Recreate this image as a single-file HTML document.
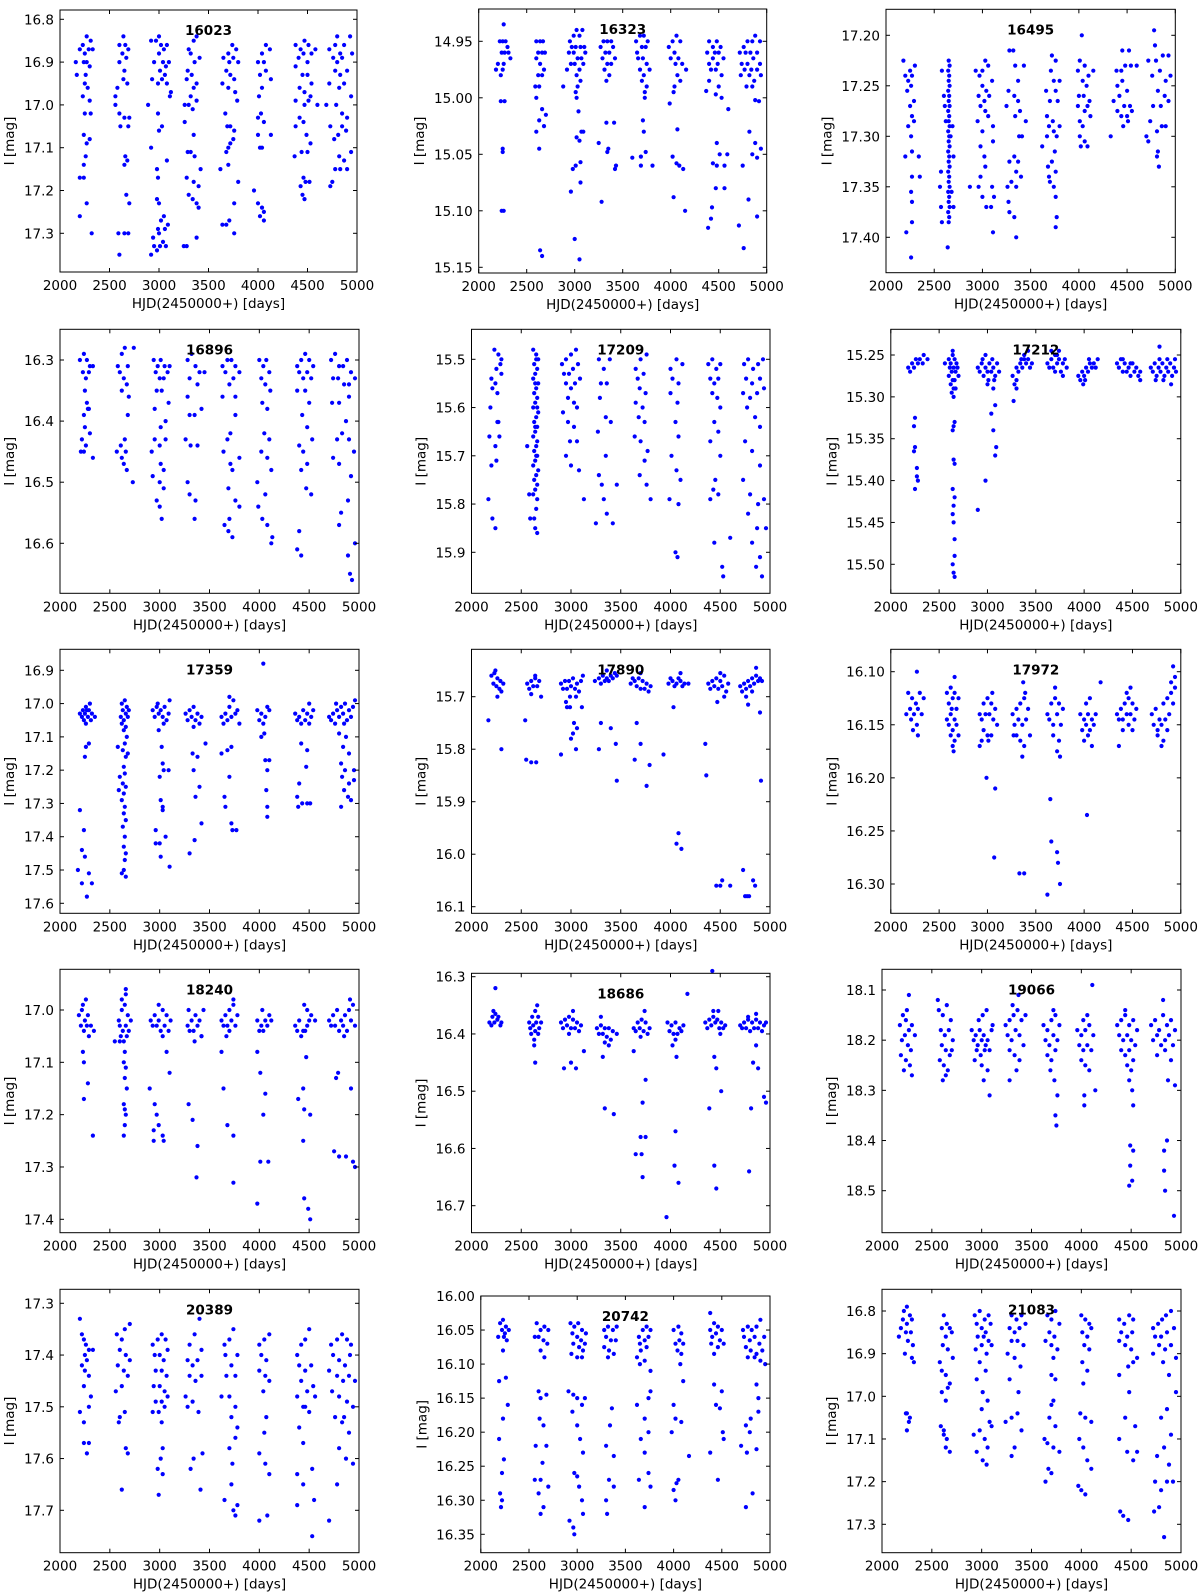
<!DOCTYPE html>
<html><head><meta charset="utf-8">
<style>
html,body{margin:0;padding:0;background:#fff;}
svg{display:block;font-family:"DejaVu Sans","Liberation Sans",sans-serif;}
</style></head>
<body>
<svg id="fig" width="1200" height="1596" viewBox="0 0 1200 1596" xmlns="http://www.w3.org/2000/svg"></svg>
<script>
// ---- data: [HJD-2450000, I mag] per star ----
const obs16023=[[2160,16.90],[2200,16.87],[2230,16.86],[2250,16.88],[2270,16.84],[2290,16.87],[2310,16.85],[2330,16.87],[2240,16.90],[2270,16.90],[2300,16.91],[2250,16.95],[2260,16.93],[2280,16.96],[2300,16.99],[2250,17.02],[2310,17.02],[2240,17.07],[2270,17.09],[2300,17.08],[2260,17.12],[2240,17.14],[2200,17.17],[2240,17.17],[2270,17.23],[2200,17.26],[2320,17.30],[2230,16.98],[2170,16.93],
[2600,16.86],[2640,16.84],[2660,16.86],[2690,16.87],[2630,16.88],[2670,16.89],[2600,16.90],[2650,16.92],[2580,16.96],[2640,16.94],[2680,16.95],[2560,16.98],[2560,17.00],[2600,17.02],[2650,17.03],[2700,17.03],[2610,17.05],[2690,17.05],[2660,17.12],[2650,17.14],[2680,17.13],[2670,17.21],[2700,17.23],[2590,17.30],[2650,17.30],[2690,17.30],[2600,17.35],
[2920,16.85],[2970,16.85],[3000,16.84],[3020,16.86],[3050,16.87],[3080,16.86],[3000,16.88],[3040,16.90],[3070,16.91],[3100,16.90],[2950,16.90],[3010,16.92],[3060,16.93],[2930,16.94],[2990,16.95],[3030,16.94],[3080,16.95],[3120,16.97],[2890,17.00],[2990,17.02],[3030,17.05],[3000,17.06],[3110,16.98],[2920,17.10],[2980,17.15],[2990,17.17],[3080,17.13],[2980,17.22],[3000,17.23],[3020,17.27],[3050,17.26],[2990,17.29],[3060,17.29],[3090,17.28],[2940,17.31],[3000,17.30],[3040,17.32],[2950,17.33],[3010,17.33],[3070,17.33],[2920,17.35],[2980,17.34],
[3300,16.87],[3350,16.85],[3380,16.84],[3320,16.88],[3360,16.90],[3410,16.89],[3290,16.92],[3330,16.93],[3380,16.95],[3280,16.94],[3350,16.96],[3320,16.98],[3380,16.99],[3260,17.00],[3300,17.00],[3340,17.01],[3260,17.04],[3350,17.07],[3290,17.11],[3320,17.11],[3360,17.12],[3420,17.15],[3350,17.18],[3280,17.17],[3400,17.19],[3300,17.21],[3340,17.22],[3380,17.23],[3400,17.24],[3250,17.33],[3280,17.33],[3380,17.31],
[3650,16.89],[3700,16.88],[3740,16.86],[3780,16.87],[3710,16.90],[3750,16.89],[3800,16.90],[3680,16.92],[3720,16.93],[3760,16.94],[3640,16.95],[3700,16.96],[3770,16.97],[3790,16.99],[3670,17.02],[3690,17.05],[3720,17.05],[3760,17.06],[3750,17.08],[3720,17.09],[3700,17.10],[3680,17.11],[3620,17.15],[3700,17.14],[3800,17.18],[3760,17.23],[3640,17.28],[3680,17.28],[3710,17.27],[3760,17.30],
[4000,16.90],[4040,16.88],[4080,16.86],[4120,16.87],[4060,16.90],[4020,16.93],[4080,16.92],[4130,16.94],[4040,16.96],[4010,16.98],[4000,17.03],[4030,17.02],[4060,17.04],[4000,17.07],[4130,17.07],[4020,17.10],[4040,17.10],[3960,17.20],[4000,17.23],[4040,17.24],[4060,17.25],[4020,17.26],[4060,17.27],
[4380,16.86],[4430,16.87],[4470,16.85],[4510,16.86],[4540,16.88],[4410,16.89],[4460,16.88],[4500,16.90],[4580,16.87],[4380,16.91],[4450,16.93],[4500,16.93],[4540,16.95],[4420,16.96],[4470,16.97],[4510,16.99],[4380,16.99],[4470,17.00],[4530,16.98],[4600,17.00],[4420,17.03],[4460,17.04],[4380,17.05],[4490,17.07],[4530,17.09],[4440,17.11],[4500,17.11],[4370,17.12],[4460,17.17],[4480,17.18],[4430,17.19],[4520,17.18],[4450,17.21],[4470,17.22],
[4720,16.87],[4780,16.86],[4800,16.84],[4830,16.88],[4870,16.86],[4930,16.84],[4760,16.89],[4800,16.90],[4850,16.89],[4950,16.88],[4780,16.92],[4830,16.93],[4900,16.92],[4720,16.95],[4820,16.96],[4870,16.95],[4940,16.98],[4690,17.00],[4790,17.00],[4850,17.02],[4900,17.03],[4730,17.05],[4850,17.05],[4890,17.06],[4770,17.08],[4810,17.07],[4940,17.11],[4820,17.12],[4870,17.13],[4780,17.15],[4900,17.15],[4750,17.18],[4730,17.19],[4830,17.15]];
const obs16323=[[2260,14.935],[2220,14.95],[2250,14.95],[2280,14.95],[2300,14.955],[2240,14.96],[2270,14.96],[2310,14.96],[2200,14.97],[2260,14.97],[2330,14.965],[2180,14.975],[2230,14.98],[2250,14.975],[2230,15.003],[2270,15.003],[2250,15.045],[2250,15.048],[2240,15.1],[2260,15.1],
[2600,14.95],[2640,14.95],[2670,14.95],[2620,14.96],[2660,14.96],[2690,14.96],[2600,14.965],[2640,14.97],[2680,14.975],[2620,14.98],[2660,14.98],[2590,14.99],[2630,14.99],[2600,15.0],[2660,15.01],[2700,15.015],[2630,15.02],[2680,15.025],[2600,15.03],[2630,15.045],[2640,15.135],[2660,15.14],
[2950,14.95],[2990,14.945],[3020,14.94],[3050,14.945],[3080,14.94],[2970,14.955],[3010,14.955],[3060,14.955],[3100,14.955],[2940,14.96],[2990,14.96],[3030,14.965],[3070,14.965],[3110,14.96],[2960,14.97],[3000,14.97],[3050,14.975],[3090,14.97],[2920,14.975],[3020,14.98],[3060,14.985],[2880,14.99],[3030,14.99],[3010,14.995],[3020,15.0],[3040,15.012],[3070,15.03],[3090,15.03],[3020,15.035],[3050,15.038],[2980,15.063],[3010,15.06],[3060,15.057],[3060,15.075],[2960,15.083],[3000,15.125],[3050,15.143],
[3300,14.95],[3340,14.95],[3380,14.95],[3270,14.955],[3320,14.96],[3360,14.96],[3400,14.955],[3290,14.965],[3340,14.97],[3380,14.97],[3420,14.965],[3310,14.975],[3360,14.98],[3330,14.985],[3330,15.022],[3410,15.022],[3250,15.04],[3350,15.045],[3340,15.048],[3430,15.06],[3420,15.063],[3280,15.092],
[3640,14.95],[3680,14.945],[3720,14.945],[3760,14.95],[3650,14.96],[3700,14.955],[3740,14.955],[3660,14.965],[3710,14.965],[3750,14.97],[3680,14.975],[3720,14.98],[3780,14.975],[3700,14.985],[3750,14.99],[3730,14.995],[3730,15.0],[3710,15.02],[3720,15.03],[3740,15.048],[3600,15.053],[3690,15.052],[3690,15.06],[3810,15.06],
[3980,14.955],[4020,14.95],[4060,14.945],[4100,14.95],[4040,14.96],[4080,14.965],[4000,14.965],[4050,14.97],[4120,14.97],[4160,14.975],[4070,14.98],[4100,14.985],[4040,14.99],[4030,14.995],[3990,15.005],[4070,15.028],[4020,15.052],[4060,15.058],[4090,15.06],[4130,15.063],[4030,15.088],[4150,15.1],
[4400,14.95],[4440,14.955],[4480,14.95],[4520,14.955],[4380,14.96],[4460,14.96],[4500,14.96],[4550,14.965],[4400,14.97],[4440,14.965],[4490,14.97],[4420,14.975],[4470,14.975],[4530,14.98],[4400,14.985],[4500,14.99],[4370,14.994],[4470,14.997],[4530,15.0],[4600,15.01],[4480,15.04],[4510,15.05],[4590,15.05],[4440,15.058],[4480,15.06],[4560,15.06],[4470,15.08],[4560,15.08],[4430,15.097],[4420,15.107],[4390,15.115],
[4760,14.955],[4800,14.95],[4850,14.95],[4880,14.945],[4930,14.95],[4720,14.96],[4780,14.96],[4830,14.96],[4900,14.96],[4740,14.97],[4800,14.97],[4860,14.965],[4930,14.97],[4770,14.975],[4840,14.975],[4900,14.975],[4730,14.98],[4820,14.98],[4870,14.985],[4940,14.98],[4790,14.99],[4850,14.99],[4880,15.002],[4920,15.003],[4820,15.03],[4880,15.04],[4940,15.045],[4850,15.05],[4900,15.053],[4750,15.06],[4810,15.09],[4710,15.113],[4900,15.105],[4760,15.133]];
const obs16495=[[2180,17.225],[2200,17.24],[2230,17.245],[2250,17.235],[2270,17.24],[2260,17.25],[2220,17.255],[2300,17.23],[2290,17.265],[2250,17.27],[2270,17.28],[2230,17.29],[2290,17.285],[2260,17.30],[2270,17.315],[2200,17.32],[2340,17.32],[2270,17.34],[2350,17.34],[2260,17.355],[2270,17.365],[2270,17.385],[2210,17.395],[2260,17.42],
[2650,17.225],[2660,17.23],[2645,17.235],[2655,17.24],[2650,17.245],[2660,17.25],[2645,17.255],[2655,17.26],[2650,17.265],[2660,17.27],[2645,17.275],[2655,17.28],[2650,17.285],[2660,17.29],[2645,17.295],[2655,17.30],[2650,17.305],[2660,17.31],[2645,17.315],[2655,17.32],[2650,17.325],[2660,17.33],[2645,17.335],[2655,17.34],[2650,17.345],[2660,17.35],[2645,17.355],[2655,17.36],[2650,17.365],[2660,17.37],[2645,17.375],[2655,17.38],[2650,17.385],[2580,17.235],[2600,17.26],[2610,17.27],[2620,17.285],[2690,17.29],[2670,17.30],[2700,17.32],[2570,17.335],[2560,17.35],[2680,17.355],[2700,17.37],[2570,17.37],[2580,17.385],[2640,17.41],
[2930,17.235],[2970,17.24],[3000,17.235],[3030,17.225],[3060,17.23],[3000,17.25],[3040,17.255],[2960,17.26],[3020,17.265],[3070,17.26],[3100,17.245],[2980,17.27],[3030,17.275],[3060,17.28],[2950,17.285],[3000,17.295],[3110,17.29],[3110,17.305],[2980,17.31],[3020,17.32],[3030,17.33],[2980,17.34],[2870,17.35],[2960,17.35],[3000,17.36],[3040,17.37],[3100,17.35],[3120,17.36],[3090,17.37],[3110,17.395],
[3280,17.215],[3320,17.215],[3340,17.23],[3370,17.245],[3430,17.23],[3270,17.255],[3330,17.26],[3340,17.28],[3370,17.265],[3390,17.275],[3250,17.27],[3380,17.3],[3410,17.3],[3450,17.285],[3280,17.325],[3330,17.32],[3370,17.325],[3350,17.335],[3300,17.345],[3350,17.35],[3400,17.34],[3260,17.35],[3270,17.365],[3280,17.375],[3330,17.38],[3350,17.40],
[3720,17.22],[3760,17.225],[3710,17.235],[3740,17.245],[3800,17.245],[3660,17.255],[3700,17.265],[3760,17.255],[3780,17.265],[3670,17.28],[3730,17.285],[3800,17.29],[3740,17.295],[3770,17.3],[3690,17.29],[3620,17.31],[3670,17.30],[3750,17.315],[3720,17.325],[3680,17.33],[3690,17.34],[3760,17.335],[3700,17.345],[3740,17.35],[3760,17.36],[3770,17.38],[3760,17.39],
[4030,17.2],[4010,17.225],[4060,17.23],[4100,17.24],[4150,17.235],[3990,17.235],[4040,17.245],[4080,17.25],[4000,17.26],[4050,17.26],[4110,17.265],[3990,17.27],[4060,17.275],[4120,17.28],[4010,17.285],[4040,17.29],[4090,17.27],[4010,17.3],[4060,17.305],[4020,17.31],[4090,17.31],
[4450,17.215],[4520,17.215],[4390,17.235],[4440,17.235],[4480,17.23],[4540,17.23],[4600,17.23],[4400,17.25],[4450,17.245],[4500,17.255],[4360,17.265],[4420,17.26],[4470,17.27],[4530,17.27],[4400,17.275],[4440,17.28],[4500,17.28],[4550,17.275],[4460,17.29],[4510,17.285],[4330,17.30],
[4780,17.195],[4790,17.21],[4720,17.225],[4800,17.225],[4870,17.22],[4930,17.22],[4760,17.24],[4840,17.235],[4900,17.245],[4950,17.24],[4820,17.255],[4890,17.26],[4770,17.27],[4850,17.27],[4930,17.265],[4740,17.285],[4810,17.295],[4860,17.29],[4900,17.29],[4700,17.30],[4720,17.305],[4820,17.315],[4810,17.32],[4830,17.33]];
const obs16896=[[2200,16.30],[2240,16.29],[2270,16.30],[2300,16.31],[2230,16.32],[2260,16.33],[2290,16.32],[2330,16.31],[2250,16.35],[2270,16.37],[2240,16.39],[2280,16.38],[2250,16.41],[2300,16.42],[2220,16.43],[2260,16.44],[2210,16.45],[2240,16.45],[2330,16.46],[2290,16.38],
[2580,16.31],[2620,16.29],[2650,16.28],[2680,16.31],[2740,16.28],[2600,16.32],[2640,16.33],[2670,16.34],[2620,16.35],[2690,16.36],[2680,16.39],[2650,16.43],[2570,16.45],[2620,16.46],[2660,16.45],[2640,16.47],[2670,16.48],[2730,16.50],[2610,16.44],
[2940,16.30],[2980,16.31],[3010,16.30],[3050,16.31],[3080,16.32],[2960,16.32],[3000,16.33],[3040,16.33],[3100,16.31],[2970,16.35],[3020,16.35],[3090,16.37],[2950,16.38],[3010,16.41],[3060,16.40],[2950,16.43],[3000,16.44],[3060,16.43],[2920,16.45],[3010,16.47],[3040,16.48],[2930,16.49],[3000,16.50],[3040,16.51],[2970,16.53],[3000,16.54],[3020,16.56],
[3280,16.30],[3320,16.29],[3360,16.31],[3400,16.32],[3450,16.32],[3300,16.33],[3380,16.34],[3280,16.36],[3420,16.38],[3300,16.39],[3350,16.39],[3260,16.43],[3310,16.44],[3380,16.44],[3280,16.50],[3300,16.52],[3360,16.53],[3350,16.56],
[3630,16.31],[3680,16.30],[3720,16.30],[3760,16.31],[3800,16.32],[3660,16.32],[3740,16.33],[3700,16.34],[3630,16.36],[3760,16.36],[3760,16.39],[3710,16.42],[3680,16.43],[3640,16.45],[3710,16.47],[3800,16.46],[3730,16.48],[3690,16.51],[3760,16.53],[3800,16.54],[3650,16.57],[3690,16.58],[3730,16.59],[3700,16.56],
[4000,16.30],[4040,16.31],[4070,16.30],[4100,16.32],[4020,16.33],[4060,16.34],[4110,16.35],[4030,16.37],[4080,16.38],[4050,16.42],[4100,16.43],[4020,16.45],[4080,16.46],[4120,16.48],[3980,16.50],[4060,16.52],[3990,16.54],[4030,16.56],[4080,16.57],[4130,16.59],[4120,16.60],
[4380,16.31],[4420,16.30],[4460,16.29],[4500,16.30],[4540,16.31],[4400,16.32],[4440,16.33],[4480,16.32],[4520,16.33],[4380,16.35],[4460,16.35],[4500,16.37],[4430,16.39],[4480,16.41],[4400,16.44],[4440,16.45],[4530,16.43],[4480,16.47],[4420,16.48],[4470,16.51],[4520,16.52],[4400,16.58],[4380,16.61],[4420,16.62],
[4720,16.30],[4760,16.29],[4800,16.31],[4840,16.31],[4880,16.30],[4920,16.32],[4740,16.33],[4790,16.33],[4850,16.34],[4900,16.34],[4960,16.33],[4730,16.37],[4800,16.37],[4900,16.36],[4870,16.40],[4830,16.42],[4780,16.43],[4900,16.43],[4950,16.45],[4740,16.46],[4800,16.47],[4920,16.49],[4890,16.53],[4820,16.55],[4800,16.57],[4890,16.62],[4960,16.60],[4910,16.65],[4930,16.66]];
const obs17209=[[2230,15.48],[2270,15.49],[2300,15.50],[2250,15.52],[2290,15.51],[2200,15.54],[2240,15.55],[2300,15.53],[2210,15.56],[2260,15.57],[2190,15.60],[2260,15.63],[2180,15.66],[2280,15.66],[2240,15.68],[2200,15.72],[2250,15.71],[2170,15.79],[2210,15.83],[2240,15.85],[2270,15.63],
[2620,15.48],[2650,15.49],[2670,15.50],[2630,15.51],[2660,15.52],[2640,15.53],[2620,15.54],[2670,15.55],[2650,15.56],[2630,15.57],[2660,15.58],[2640,15.59],[2620,15.60],[2670,15.61],[2650,15.62],[2630,15.63],[2660,15.64],[2640,15.65],[2620,15.66],[2660,15.67],[2650,15.68],[2630,15.69],[2660,15.70],[2640,15.71],[2620,15.72],[2670,15.73],[2650,15.74],[2630,15.75],[2660,15.76],[2640,15.77],[2620,15.78],[2660,15.79],[2650,15.81],[2630,15.83],[2640,15.85],[2660,15.86],[2650,15.50],[2640,15.55],[2660,15.60],[2640,15.64],[2650,15.70],[2560,15.68],[2590,15.83],[2580,15.78],
[2910,15.51],[2950,15.50],[3000,15.49],[3050,15.48],[2930,15.53],[2980,15.53],[3020,15.52],[3070,15.51],[2950,15.55],[3000,15.56],[3040,15.55],[3090,15.54],[2970,15.58],[3030,15.59],[2920,15.61],[3060,15.60],[2970,15.63],[3030,15.64],[2990,15.67],[3060,15.67],[2950,15.70],[3080,15.73],[3000,15.72],[3130,15.79],
[3280,15.50],[3330,15.52],[3390,15.50],[3300,15.55],[3360,15.55],[3290,15.58],[3350,15.62],[3400,15.63],[3270,15.65],[3350,15.70],[3280,15.74],[3310,15.76],[3330,15.79],[3360,15.82],[3250,15.84],[3420,15.84],[3460,15.76],
[3650,15.52],[3700,15.50],[3760,15.49],[3670,15.54],[3730,15.53],[3690,15.56],[3750,15.57],[3650,15.59],[3720,15.60],[3680,15.62],[3740,15.63],[3640,15.66],[3700,15.67],[3770,15.69],[3740,15.71],[3690,15.74],[3760,15.76],[3800,15.79],
[4000,15.52],[4060,15.50],[4120,15.51],[4020,15.54],[4080,15.55],[4000,15.57],[4070,15.59],[4050,15.63],[4080,15.66],[4010,15.70],[4060,15.73],[4100,15.75],[3990,15.79],[4080,15.80],[4050,15.90],[4070,15.91],
[4380,15.51],[4420,15.50],[4460,15.52],[4500,15.51],[4400,15.54],[4440,15.55],[4480,15.54],[4420,15.57],[4470,15.58],[4500,15.60],[4440,15.63],[4480,15.65],[4400,15.67],[4500,15.70],[4450,15.75],[4430,15.77],[4400,15.79],[4480,15.78],[4440,15.88],[4520,15.93],[4530,15.95],[4600,15.87],
[4740,15.51],[4780,15.50],[4830,15.52],[4880,15.51],[4930,15.50],[4760,15.54],[4820,15.55],[4900,15.54],[4730,15.57],[4800,15.58],[4870,15.57],[4940,15.56],[4770,15.60],[4850,15.62],[4900,15.64],[4750,15.67],[4820,15.69],[4900,15.72],[4730,15.75],[4800,15.78],[4880,15.80],[4940,15.79],[4780,15.82],[4870,15.85],[4820,15.88],[4900,15.91],[4860,15.93],[4920,15.95],[4960,15.85]];
const obs17212=[[2180,15.265],[2220,15.26],[2260,15.255],[2300,15.255],[2340,15.25],[2380,15.255],[2200,15.27],[2240,15.265],[2280,15.26],[2330,15.26],[2250,15.325],[2240,15.335],[2250,15.36],[2240,15.365],[2270,15.385],[2270,15.395],[2250,15.41],[2280,15.40],
[2600,15.255],[2620,15.26],[2640,15.25],[2660,15.255],[2680,15.26],[2610,15.265],[2630,15.27],[2650,15.265],[2670,15.27],[2690,15.265],[2600,15.275],[2640,15.28],[2660,15.28],[2620,15.285],[2650,15.29],[2670,15.29],[2640,15.245],[2560,15.26],[2700,15.275],[2630,15.295],[2650,15.30],[2660,15.33],[2650,15.335],[2640,15.34],[2650,15.375],[2660,15.38],[2640,15.41],[2660,15.42],[2650,15.43],[2640,15.44],[2650,15.45],[2660,15.47],[2660,15.49],[2650,15.51],[2660,15.515],[2640,15.50],
[2900,15.265],[2940,15.26],[2980,15.265],[3020,15.26],[3060,15.265],[3100,15.26],[2920,15.27],[2960,15.275],[3000,15.27],[3040,15.27],[3080,15.275],[3120,15.27],[2950,15.255],[3050,15.255],[3010,15.28],[3070,15.28],[2980,15.25],[3000,15.285],[3060,15.29],[3080,15.31],[3040,15.32],[3060,15.34],[3090,15.36],[3080,15.37],[2980,15.40],[2900,15.435],
[3260,15.275],[3300,15.265],[3340,15.26],[3380,15.255],[3420,15.255],[3460,15.26],[3320,15.27],[3360,15.265],[3400,15.26],[3440,15.265],[3300,15.28],[3380,15.25],[3420,15.245],[3350,15.255],[3280,15.285],[3300,15.29],[3270,15.305],
[3620,15.26],[3660,15.255],[3700,15.25],[3740,15.255],[3780,15.26],[3820,15.265],[3640,15.265],[3680,15.265],[3720,15.26],[3760,15.27],[3800,15.255],[3700,15.27],[3740,15.245],[3660,15.245],[3780,15.275],[3720,15.25],
[3940,15.275],[3980,15.27],[4020,15.265],[4060,15.26],[4100,15.26],[4140,15.255],[3960,15.28],[4000,15.275],[4040,15.27],[4080,15.265],[4120,15.265],[3990,15.285],[4050,15.255],[4010,15.28],
[4340,15.26],[4380,15.255],[4420,15.26],[4460,15.265],[4500,15.26],[4540,15.265],[4580,15.27],[4360,15.265],[4400,15.27],[4440,15.27],[4480,15.275],[4520,15.27],[4560,15.275],[4400,15.255],[4480,15.26],[4580,15.28],
[4690,15.265],[4730,15.26],[4770,15.265],[4810,15.26],[4850,15.265],[4890,15.26],[4930,15.265],[4710,15.27],[4750,15.275],[4790,15.27],[4830,15.275],[4870,15.27],[4910,15.275],[4950,15.27],[4740,15.28],[4820,15.28],[4900,15.285],[4780,15.255],[4860,15.255],[4940,15.255],[4780,15.24]];
const obs17359=[[2200,17.03],[2230,17.02],[2260,17.01],[2290,17.02],[2320,17.03],[2350,17.04],[2220,17.04],[2250,17.03],[2280,17.04],[2310,17.05],[2240,17.05],[2270,17.02],[2300,17.00],[2260,17.06],[2200,17.32],[2240,17.38],[2220,17.44],[2250,17.46],[2180,17.50],[2220,17.54],[2290,17.51],[2320,17.54],[2270,17.58],[2250,17.16],[2290,17.12],[2260,17.13],
[2620,17.00],[2650,16.99],[2670,17.01],[2630,17.02],[2660,17.03],[2690,17.02],[2610,17.04],[2640,17.05],[2680,17.04],[2620,17.06],[2660,17.07],[2640,17.08],[2670,17.10],[2650,17.12],[2630,17.14],[2660,17.16],[2640,17.19],[2650,17.21],[2630,17.24],[2660,17.25],[2640,17.27],[2620,17.29],[2650,17.31],[2640,17.33],[2660,17.35],[2630,17.37],[2650,17.40],[2640,17.43],[2660,17.45],[2650,17.47],[2640,17.50],[2660,17.52],[2620,17.51],[2580,17.13],[2590,17.26],[2600,17.22],[2680,17.15],
[2930,17.02],[2970,17.01],[3010,17.02],[3050,17.01],[3090,17.03],[2950,17.04],[2990,17.03],[3030,17.04],[3070,17.05],[2980,17.00],[3100,16.99],[3040,17.06],[2990,17.08],[3020,17.13],[3030,17.18],[3000,17.22],[3040,17.20],[3090,17.20],[3010,17.29],[3030,17.31],[2960,17.38],[3000,17.42],[3060,17.40],[2960,17.42],[3010,17.46],[3100,17.49],[3030,17.32],
[3260,17.03],[3300,17.02],[3340,17.01],[3380,17.03],[3420,17.04],[3280,17.05],[3320,17.04],[3360,17.05],[3400,17.06],[3340,17.07],[3330,17.15],[3340,17.20],[3360,17.28],[3400,17.25],[3420,17.36],[3350,17.41],[3300,17.45],[3380,17.16],[3460,17.12],
[3620,17.04],[3660,17.03],[3700,17.01],[3740,16.99],[3780,17.02],[3680,17.05],[3720,17.04],[3760,17.03],[3700,16.98],[3800,17.06],[3640,17.06],[3620,17.15],[3680,17.14],[3720,17.13],[3700,17.22],[3650,17.28],[3660,17.31],[3720,17.36],[3770,17.38],[3730,17.38],
[3980,17.02],[4020,17.03],[4060,17.04],[4100,17.02],[4000,17.05],[4040,17.06],[4080,17.01],[4050,17.09],[4040,16.88],[4020,17.10],[4060,17.17],[4080,17.20],[4100,17.17],[4070,17.26],[4080,17.31],[4080,17.34],
[4360,17.03],[4400,17.04],[4440,17.02],[4480,17.03],[4520,17.04],[4380,17.05],[4420,17.06],[4460,17.05],[4500,17.06],[4540,17.02],[4500,17.00],[4420,17.12],[4480,17.14],[4470,17.19],[4400,17.24],[4380,17.28],[4430,17.30],[4480,17.30],[4390,17.31],[4510,17.30],
[4700,17.04],[4740,17.03],[4780,17.02],[4820,17.01],[4860,17.00],[4900,17.02],[4940,17.01],[4720,17.05],[4760,17.06],[4800,17.04],[4840,17.03],[4880,17.05],[4920,17.04],[4960,16.99],[4770,17.00],[4850,17.06],[4800,17.09],[4870,17.10],[4840,17.13],[4900,17.15],[4820,17.18],[4860,17.20],[4950,17.20],[4830,17.22],[4900,17.24],[4850,17.26],[4890,17.28],[4920,17.29],[4820,17.31],[4950,17.23]];
const obs17890=[[2200,15.66],[2230,15.655],[2260,15.665],[2290,15.67],[2320,15.675],[2220,15.675],[2250,15.68],[2280,15.685],[2240,15.65],[2300,15.69],[2260,15.70],
[2560,15.675],[2600,15.67],[2640,15.665],[2680,15.67],[2580,15.685],[2620,15.68],[2660,15.68],[2640,15.66],[2600,15.695],[2700,15.70],
[2900,15.675],[2940,15.67],[2980,15.67],[3020,15.665],[3060,15.675],[3100,15.67],[2920,15.685],[2960,15.685],[3000,15.68],[3040,15.685],[3080,15.69],[2990,15.70],[3050,15.70],[2950,15.71],[3120,15.66],
[3240,15.67],[3280,15.665],[3320,15.66],[3360,15.665],[3400,15.66],[3440,15.655],[3300,15.675],[3340,15.67],[3380,15.67],[3420,15.665],[3460,15.66],[3360,15.65],
[3600,15.675],[3640,15.67],[3680,15.665],[3720,15.67],[3760,15.675],[3800,15.68],[3660,15.68],[3700,15.685],[3740,15.685],[3700,15.655],[3620,15.665],[3780,15.69],
[3980,15.675],[4020,15.67],[4060,15.675],[4100,15.67],[4140,15.675],[4180,15.675],[4040,15.68],[4080,15.665],[4120,15.68],[4000,15.665],[4100,15.655],
[4380,15.675],[4420,15.67],[4460,15.665],[4500,15.67],[4540,15.66],[4580,15.675],[4400,15.685],[4440,15.68],[4480,15.685],[4520,15.68],[4560,15.69],[4500,15.655],[4540,15.70],[4470,15.71],
[4700,15.68],[4740,15.675],[4780,15.67],[4820,15.665],[4860,15.66],[4900,15.665],[4720,15.69],[4760,15.685],[4800,15.68],[4840,15.675],[4880,15.67],[4920,15.67],[4860,15.645],[4760,15.70],[4780,15.715],[4820,15.69],
[2170,15.745],[2300,15.80],[2540,15.745],[2550,15.82],[2600,15.825],[2650,15.825],[2900,15.81],[2960,15.72],[2990,15.72],[3030,15.75],[3060,15.76],[3020,15.77],[3000,15.78],[3050,15.80],[3110,15.72],[3280,15.80],[3300,15.75],[3400,15.76],[3450,15.79],[3460,15.86],[3640,15.82],[3660,15.75],[3700,15.79],[3760,15.87],[3790,15.83],[3930,15.81],[4030,15.72],[4080,15.96],[4060,15.98],[4110,15.99],[4350,15.79],[4360,15.85],[4460,16.06],[4500,16.06],[4520,16.05],[4600,16.06],[4730,16.03],[4770,16.08],[4790,16.08],[4830,16.05],[4850,16.06],[4900,15.73],[4910,15.86],[4750,16.08]];
const obs17972=[[2180,16.12],[2220,16.125],[2260,16.13],[2300,16.12],[2340,16.125],[2200,16.135],[2240,16.14],[2280,16.135],[2320,16.14],[2160,16.14],[2210,16.145],[2270,16.15],[2230,16.155],[2280,16.16],[2270,16.10],
[2580,16.12],[2620,16.115],[2660,16.12],[2700,16.125],[2600,16.13],[2640,16.125],[2680,16.135],[2620,16.14],[2660,16.145],[2600,16.15],[2640,16.155],[2680,16.15],[2620,16.16],[2660,16.165],[2640,16.17],[2650,16.175],[2660,16.105],[2580,16.145],[2700,16.16],[2630,16.135],
[2920,16.14],[2960,16.13],[3000,16.125],[3040,16.13],[3080,16.135],[2940,16.145],[2980,16.14],[3020,16.14],[3060,16.145],[3100,16.15],[2960,16.155],[3000,16.16],[3040,16.16],[2920,16.17],[3010,16.165],[3050,16.12],[2990,16.20],[3080,16.21],[3070,16.275],[2940,16.165],
[3260,16.14],[3300,16.135],[3340,16.13],[3380,16.125],[3420,16.135],[3280,16.15],[3320,16.145],[3360,16.15],[3400,16.145],[3300,16.16],[3340,16.165],[3380,16.17],[3440,16.16],[3360,16.18],[3370,16.11],[3330,16.29],[3380,16.29],[3270,16.16],[3390,16.12],
[3620,16.14],[3660,16.13],[3700,16.125],[3740,16.13],[3780,16.135],[3640,16.145],[3680,16.15],[3720,16.14],[3760,16.15],[3680,16.16],[3740,16.165],[3720,16.175],[3750,16.18],[3650,16.22],[3660,16.26],[3720,16.27],[3730,16.28],[3750,16.30],[3620,16.31],[3700,16.115],
[3960,16.14],[4000,16.145],[4040,16.14],[4080,16.145],[4120,16.14],[3980,16.155],[4020,16.15],[4060,16.155],[4100,16.15],[4000,16.165],[4040,16.16],[4080,16.17],[4020,16.13],[4060,16.125],[4170,16.11],[4030,16.235],
[4340,16.14],[4380,16.135],[4420,16.13],[4460,16.125],[4500,16.13],[4540,16.135],[4360,16.145],[4400,16.145],[4440,16.14],[4480,16.14],[4520,16.145],[4400,16.155],[4460,16.15],[4500,16.155],[4440,16.12],[4480,16.115],[4360,16.17],
[4700,16.14],[4740,16.135],[4780,16.145],[4820,16.13],[4860,16.125],[4900,16.12],[4940,16.115],[4720,16.15],[4760,16.155],[4800,16.15],[4840,16.145],[4880,16.14],[4920,16.13],[4760,16.16],[4820,16.165],[4860,16.155],[4900,16.11],[4940,16.105],[4920,16.095],[4800,16.17]];
const obs18240=[[2190,17.01],[2220,17.00],[2250,17.02],[2280,17.01],[2310,17.03],[2340,17.04],[2210,17.03],[2240,17.04],[2270,17.03],[2230,16.99],[2260,16.98],[2290,17.05],[2230,17.08],[2240,17.10],[2240,17.17],[2280,17.14],[2330,17.24],
[2590,17.02],[2620,17.00],[2650,16.99],[2680,17.01],[2710,17.02],[2600,17.03],[2630,17.04],[2660,17.03],[2690,17.04],[2610,17.05],[2640,17.06],[2670,17.05],[2650,17.08],[2620,16.98],[2660,16.97],[2640,17.10],[2660,17.11],[2650,17.13],[2670,17.15],[2640,17.18],[2650,17.19],[2660,17.20],[2650,17.22],[2640,17.24],[2600,17.06],[2550,17.06],[2660,16.96],
[2910,17.02],[2950,17.01],[2990,17.02],[3030,17.00],[3070,17.01],[3110,17.02],[2930,17.03],[2970,17.03],[3010,17.04],[3050,17.03],[3090,17.04],[2990,16.99],[3030,17.05],[3070,17.08],[3100,17.12],[2900,17.15],[2950,17.18],[2970,17.20],[2940,17.23],[2990,17.22],[3040,17.25],[2940,17.25],[3030,17.24],
[3280,17.03],[3320,17.02],[3360,17.01],[3400,17.02],[3440,17.00],[3300,17.04],[3340,17.04],[3380,17.03],[3420,17.05],[3350,17.06],[3290,17.00],[3290,17.18],[3330,17.21],[3380,17.26],[3370,17.32],[3420,17.05],
[3620,17.02],[3660,17.01],[3700,17.00],[3740,16.99],[3780,17.01],[3640,17.03],[3680,17.03],[3720,17.02],[3760,17.03],[3700,17.04],[3740,16.98],[3670,17.05],[3620,17.08],[3640,17.15],[3680,17.22],[3740,17.24],[3740,17.33],
[3980,17.02],[4020,17.03],[4060,17.02],[4100,17.01],[4000,17.04],[4040,17.04],[4080,17.03],[4030,17.00],[4120,17.02],[3980,17.08],[4010,17.12],[4060,17.16],[4040,17.20],[4010,17.29],[4090,17.29],[3980,17.37],
[4360,17.03],[4400,17.02],[4440,17.04],[4480,17.03],[4520,17.01],[4560,17.02],[4380,17.04],[4420,17.05],[4460,17.04],[4500,17.02],[4480,17.00],[4450,16.99],[4470,17.09],[4440,17.15],[4450,17.19],[4510,17.20],[4440,17.25],[4450,17.36],[4490,17.38],[4510,17.40],[4390,17.17],
[4700,17.02],[4740,17.01],[4780,17.00],[4820,17.02],[4860,17.01],[4900,17.00],[4940,16.99],[4720,17.03],[4760,17.03],[4800,17.04],[4840,17.03],[4880,17.04],[4920,17.02],[4960,17.03],[4850,17.05],[4910,16.98],[4770,17.13],[4790,17.12],[4920,17.15],[4750,17.27],[4800,17.28],[4870,17.28],[4940,17.29],[4960,17.30]];
const obs18686=[[2180,16.38],[2210,16.37],[2240,16.365],[2270,16.37],[2300,16.38],[2200,16.385],[2230,16.38],[2260,16.375],[2290,16.385],[2220,16.36],[2240,16.32],
[2580,16.38],[2610,16.37],[2640,16.36],[2670,16.37],[2700,16.38],[2590,16.39],[2620,16.385],[2650,16.38],[2680,16.39],[2600,16.40],[2640,16.395],[2670,16.40],[2630,16.41],[2660,16.35],[2630,16.42],[2640,16.45],
[2900,16.38],[2940,16.375],[2980,16.37],[3020,16.375],[3060,16.38],[3100,16.385],[2920,16.39],[2960,16.385],[3000,16.39],[3040,16.39],[3080,16.395],[2980,16.40],[3020,16.36],[2930,16.46],[3000,16.45],[3050,16.46],[3130,16.43],
[3260,16.39],[3300,16.385],[3340,16.39],[3380,16.39],[3420,16.395],[3460,16.40],[3280,16.40],[3320,16.40],[3360,16.405],[3400,16.41],[3340,16.415],[3380,16.42],[3320,16.44],[3340,16.53],[3430,16.54],[3300,16.37],
[3630,16.39],[3670,16.38],[3710,16.375],[3750,16.38],[3790,16.39],[3650,16.395],[3690,16.39],[3730,16.395],[3770,16.40],[3700,16.405],[3740,16.36],[3630,16.43],[3750,16.48],[3720,16.52],[3700,16.58],[3750,16.58],[3650,16.61],[3710,16.61],[3720,16.65],
[3970,16.38],[4010,16.385],[4050,16.38],[4090,16.39],[4130,16.385],[3990,16.395],[4030,16.40],[4070,16.40],[4110,16.395],[4050,16.41],[4020,16.42],[4060,16.44],[4050,16.57],[4040,16.63],[4080,16.66],[3960,16.72],[4170,16.33],
[4350,16.38],[4390,16.375],[4430,16.37],[4470,16.375],[4510,16.38],[4550,16.385],[4370,16.39],[4410,16.385],[4450,16.38],[4490,16.39],[4530,16.39],[4430,16.36],[4480,16.36],[4440,16.44],[4460,16.46],[4390,16.53],[4440,16.63],[4460,16.67],[4510,16.50],[4420,16.29],[4500,16.40],
[4700,16.385],[4740,16.38],[4780,16.375],[4820,16.38],[4860,16.375],[4900,16.38],[4940,16.385],[4720,16.39],[4760,16.39],[4800,16.395],[4840,16.39],[4880,16.39],[4920,16.395],[4960,16.38],[4780,16.37],[4860,16.365],[4830,16.45],[4860,16.42],[4880,16.46],[4940,16.51],[4960,16.52],[4810,16.53],[4790,16.64]];
const obs19066=[[2180,18.17],[2210,18.15],[2240,18.16],[2270,18.18],[2300,18.17],[2330,18.19],[2200,18.20],[2230,18.19],[2260,18.21],[2290,18.22],[2190,18.23],[2240,18.24],[2280,18.25],[2220,18.26],[2270,18.11],[2300,18.27],[2250,18.14],
[2570,18.14],[2610,18.15],[2650,18.13],[2690,18.16],[2590,18.18],[2630,18.19],[2670,18.18],[2710,18.20],[2600,18.21],[2640,18.22],[2680,18.23],[2580,18.24],[2620,18.25],[2660,18.26],[2640,18.27],[2610,18.28],[2700,18.22],[2560,18.12],
[2900,18.18],[2940,18.19],[2980,18.18],[3020,18.19],[3060,18.20],[3100,18.18],[2920,18.20],[2960,18.21],[3000,18.20],[3040,18.21],[3080,18.22],[2950,18.22],[2990,18.23],[3030,18.22],[2970,18.16],[3010,18.15],[3050,18.14],[2930,18.24],[3000,18.25],[3060,18.26],[3020,18.28],[3080,18.31],[3110,18.17],
[3240,18.17],[3280,18.16],[3320,18.15],[3360,18.14],[3400,18.16],[3440,18.15],[3260,18.19],[3300,18.20],[3340,18.18],[3380,18.19],[3420,18.21],[3280,18.22],[3330,18.23],[3380,18.24],[3350,18.26],[3280,18.28],[3370,18.11],[3310,18.13],
[3620,18.17],[3660,18.18],[3700,18.16],[3740,18.15],[3780,18.17],[3640,18.20],[3680,18.21],[3720,18.19],[3760,18.20],[3660,18.23],[3700,18.24],[3740,18.22],[3690,18.26],[3730,18.28],[3760,18.31],[3740,18.35],[3750,18.37],[3720,18.14],
[3960,18.18],[4000,18.19],[4040,18.18],[4080,18.17],[4120,18.19],[3980,18.21],[4020,18.22],[4060,18.21],[4100,18.22],[4000,18.24],[4040,18.25],[4080,18.26],[4020,18.16],[4060,18.15],[4030,18.31],[4030,18.33],[4140,18.30],[4110,18.09],
[4360,18.17],[4400,18.16],[4440,18.15],[4480,18.17],[4520,18.16],[4560,18.18],[4380,18.19],[4420,18.20],[4460,18.19],[4500,18.20],[4540,18.21],[4400,18.22],[4440,18.23],[4480,18.22],[4520,18.24],[4460,18.25],[4500,18.26],[4480,18.28],[4510,18.30],[4440,18.14],[4490,18.41],[4520,18.42],[4490,18.45],[4510,18.48],[4480,18.49],[4520,18.33],
[4700,18.17],[4740,18.16],[4780,18.18],[4820,18.15],[4860,18.17],[4900,18.16],[4940,18.18],[4720,18.20],[4760,18.19],[4800,18.21],[4840,18.20],[4880,18.19],[4920,18.21],[4760,18.23],[4840,18.22],[4900,18.24],[4820,18.12],[4870,18.28],[4830,18.42],[4830,18.46],[4840,18.50],[4930,18.55],[4940,18.29],[4860,18.40]];
const obs20389=[[2200,17.33],[2220,17.36],[2240,17.37],[2260,17.38],[2290,17.39],[2330,17.39],[2270,17.41],[2250,17.43],[2290,17.44],[2240,17.46],[2310,17.48],[2290,17.50],[2200,17.51],[2240,17.53],[2240,17.57],[2290,17.57],[2270,17.59],[2250,17.40],[2220,17.42],
[2570,17.36],[2620,17.37],[2650,17.35],[2700,17.34],[2600,17.39],[2660,17.40],[2700,17.41],[2580,17.42],[2640,17.43],[2680,17.44],[2620,17.46],[2560,17.47],[2600,17.52],[2650,17.51],[2660,17.58],[2680,17.59],[2620,17.66],[2590,17.53],
[2930,17.38],[2980,17.37],[3020,17.36],[3060,17.37],[2950,17.40],[3000,17.40],[3040,17.41],[3080,17.39],[2960,17.43],[3020,17.43],[3070,17.44],[2940,17.46],[3000,17.46],[3050,17.47],[2960,17.49],[3020,17.49],[3080,17.48],[2930,17.51],[2990,17.51],[3050,17.50],[3020,17.53],[3030,17.58],[3010,17.60],[2980,17.62],[3030,17.63],[2990,17.67],
[3300,17.38],[3350,17.36],[3400,17.33],[3420,17.39],[3280,17.41],[3330,17.42],[3380,17.41],[3300,17.44],[3360,17.45],[3420,17.44],[3260,17.48],[3330,17.49],[3280,17.50],[3390,17.51],[3430,17.59],[3340,17.60],[3310,17.62],[3410,17.66],
[3650,17.38],[3700,17.37],[3740,17.35],[3780,17.40],[3660,17.40],[3720,17.42],[3670,17.44],[3760,17.44],[3620,17.48],[3700,17.48],[3760,17.50],[3720,17.52],[3780,17.54],[3760,17.56],[3700,17.58],[3730,17.61],[3650,17.68],[3720,17.65],[3740,17.70],[3760,17.71],[3780,17.69],
[4000,17.38],[4050,17.37],[4100,17.36],[4020,17.40],[4070,17.41],[4000,17.43],[4060,17.44],[4100,17.45],[4040,17.47],[4070,17.52],[4050,17.55],[4000,17.59],[4060,17.61],[4100,17.63],[4000,17.72],[4080,17.71],
[4380,17.40],[4420,17.38],[4460,17.37],[4500,17.35],[4400,17.42],[4460,17.43],[4520,17.42],[4420,17.45],[4480,17.47],[4540,17.46],[4380,17.48],[4440,17.50],[4500,17.51],[4460,17.50],[4560,17.48],[4400,17.54],[4440,17.57],[4380,17.63],[4440,17.65],[4530,17.62],[4380,17.69],[4550,17.68],[4530,17.75],
[4720,17.38],[4780,17.37],[4830,17.36],[4880,17.37],[4920,17.38],[4740,17.40],[4800,17.41],[4860,17.42],[4910,17.40],[4700,17.43],[4780,17.44],[4840,17.45],[4900,17.44],[4730,17.47],[4800,17.48],[4880,17.49],[4940,17.50],[4760,17.52],[4830,17.53],[4900,17.55],[4800,17.58],[4870,17.60],[4940,17.61],[4780,17.65],[4700,17.72],[4850,17.52],[4960,17.45]];
const obs20742=[[2200,16.04],[2230,16.035],[2260,16.045],[2290,16.05],[2220,16.05],[2250,16.055],[2180,16.06],[2240,16.06],[2270,16.065],[2230,16.08],[2190,16.125],[2260,16.12],[2280,16.16],[2230,16.18],[2190,16.21],[2240,16.24],[2220,16.26],[2200,16.29],[2220,16.30],[2210,16.31],
[2580,16.04],[2620,16.05],[2660,16.045],[2700,16.05],[2600,16.06],[2650,16.065],[2690,16.07],[2620,16.08],[2660,16.09],[2560,16.06],[2600,16.14],[2620,16.15],[2680,16.145],[2610,16.18],[2650,16.19],[2570,16.22],[2680,16.22],[2640,16.245],[2620,16.27],[2560,16.27],[2700,16.28],[2600,16.29],[2650,16.31],[2620,16.32],
[2930,16.04],[2970,16.045],[3010,16.04],[3050,16.05],[3090,16.055],[2950,16.055],[3000,16.06],[3040,16.065],[3080,16.07],[2960,16.07],[3020,16.075],[3060,16.08],[2940,16.085],[3000,16.09],[3050,16.09],[2910,16.14],[2960,16.145],[3000,16.15],[3080,16.15],[3050,16.16],[2950,16.17],[3000,16.19],[3030,16.21],[3060,16.23],[2970,16.26],[3000,16.265],[3020,16.28],[3050,16.30],[2920,16.33],[2960,16.34],[2970,16.35],[3060,16.32],
[3280,16.05],[3320,16.045],[3370,16.05],[3410,16.045],[3300,16.06],[3350,16.065],[3400,16.065],[3280,16.075],[3330,16.08],[3380,16.085],[3320,16.09],[3360,16.165],[3340,16.19],[3300,16.22],[3380,16.235],[3330,16.27],[3380,16.28],[3300,16.30],[3310,16.32],
[3640,16.06],[3680,16.05],[3720,16.045],[3760,16.05],[3650,16.07],[3700,16.065],[3740,16.06],[3660,16.08],[3720,16.075],[3620,16.09],[3700,16.095],[3650,16.10],[3760,16.11],[3740,16.15],[3760,16.14],[3620,16.16],[3700,16.18],[3740,16.20],[3660,16.21],[3700,16.23],[3740,16.26],[3640,16.27],[3760,16.28],[3700,16.31],
[4000,16.05],[4050,16.045],[4080,16.055],[4020,16.07],[4060,16.065],[4100,16.07],[4040,16.08],[4080,16.085],[4070,16.10],[4100,16.125],[4000,16.16],[4020,16.18],[4080,16.185],[3980,16.20],[4050,16.27],[4030,16.275],[4000,16.285],[4020,16.30],[4160,16.235],
[4380,16.05],[4420,16.04],[4460,16.045],[4500,16.05],[4400,16.06],[4440,16.055],[4480,16.065],[4390,16.07],[4460,16.075],[4520,16.07],[4420,16.085],[4380,16.025],[4420,16.13],[4480,16.165],[4500,16.14],[4440,16.16],[4520,16.21],[4380,16.23],[4460,16.27],[4510,16.20],
[4720,16.05],[4770,16.045],[4810,16.05],[4860,16.045],[4900,16.035],[4730,16.06],[4790,16.065],[4840,16.06],[4890,16.07],[4940,16.06],[4750,16.075],[4800,16.08],[4860,16.085],[4920,16.08],[4770,16.09],[4840,16.09],[4900,16.095],[4950,16.10],[4860,16.13],[4880,16.15],[4750,16.19],[4800,16.18],[4700,16.22],[4760,16.23],[4860,16.225],[4880,16.17],[4820,16.29],[4750,16.31],[4790,16.20]];
const obs21083=[[2220,16.80],[2250,16.79],[2280,16.81],[2210,16.82],[2250,16.83],[2300,16.82],[2190,16.84],[2240,16.85],[2290,16.85],[2170,16.86],[2260,16.87],[2310,16.88],[2230,16.90],[2300,16.91],[2250,17.04],[2270,17.06],[2250,17.08],[2280,17.05],[2240,17.04],[2320,16.92],
[2620,16.81],[2650,16.83],[2600,16.84],[2680,16.84],[2640,16.86],[2700,16.85],[2610,16.88],[2660,16.89],[2710,16.91],[2580,16.92],[2600,16.94],[2640,16.95],[2680,16.97],[2600,16.99],[2640,17.01],[2660,16.98],[2590,17.07],[2620,17.09],[2650,17.10],[2640,17.12],[2680,17.13],[2620,17.08],
[2930,16.81],[2980,16.80],[3030,16.82],[3070,16.81],[2950,16.83],[3000,16.84],[3040,16.85],[3090,16.83],[2960,16.86],[3020,16.86],[3070,16.87],[2940,16.89],[3000,16.88],[3050,16.90],[3100,16.88],[2980,16.92],[3040,16.94],[2950,16.96],[3010,16.99],[3060,17.01],[3000,17.03],[3080,17.06],[2980,17.08],[3030,17.10],[3060,17.12],[2950,17.13],[3010,17.15],[3050,17.16],[2920,17.09],[3100,17.07],
[3300,16.81],[3350,16.82],[3400,16.81],[3280,16.84],[3330,16.85],[3380,16.84],[3440,16.83],[3300,16.87],[3360,16.87],[3420,16.88],[3260,16.90],[3330,16.91],[3390,16.93],[3280,16.96],[3370,16.99],[3300,17.05],[3240,17.06],[3360,17.04],[3400,17.08],[3330,17.12],[3300,17.14],
[3660,16.81],[3700,16.82],[3740,16.80],[3780,16.83],[3680,16.85],[3730,16.86],[3640,16.87],[3700,16.88],[3760,16.89],[3720,16.91],[3700,16.95],[3740,16.96],[3700,17.02],[3720,17.01],[3680,17.05],[3740,17.07],[3630,17.10],[3660,17.11],[3720,17.12],[3780,17.13],[3670,17.17],[3640,17.20],[3700,17.18],
[4000,16.81],[4040,16.82],[4080,16.83],[4010,16.85],[4060,16.86],[4100,16.84],[4030,16.88],[4080,16.89],[4010,16.92],[4060,16.94],[4020,16.97],[3990,17.04],[4040,17.05],[4100,17.06],[3980,17.10],[4020,17.12],[4060,17.15],[4100,17.17],[3970,17.21],[4000,17.22],[4040,17.23],
[4380,16.82],[4430,16.83],[4480,16.81],[4520,16.82],[4400,16.85],[4460,16.86],[4510,16.85],[4380,16.87],[4440,16.88],[4500,16.89],[4470,16.93],[4520,16.92],[4560,16.91],[4380,16.95],[4480,16.99],[4440,17.05],[4540,17.07],[4380,17.10],[4460,17.13],[4520,17.15],[4390,17.27],[4420,17.28],[4470,17.29],[4560,17.13],
[4720,16.84],[4770,16.83],[4810,16.82],[4850,16.81],[4900,16.80],[4740,16.86],[4800,16.86],[4860,16.85],[4930,16.84],[4780,16.88],[4840,16.89],[4900,16.88],[4720,16.90],[4820,16.92],[4950,16.91],[4880,16.95],[4950,16.99],[4860,17.03],[4800,17.05],[4900,17.09],[4830,17.12],[4760,17.14],[4880,17.16],[4740,17.20],[4800,17.22],[4860,17.20],[4920,17.20],[4780,17.26],[4830,17.33],[4730,17.27]];

// ---- labels / ticks ----
const starIds=["16023","16323","16495","16896","17209","17212","17359","17890","17972","18240","18686","19066","20389","20742","21083"];
const xTicks=[2000,2500,3000,3500,4000,4500,5000];
const yTicks16023=["16.8","16.9","17.0","17.1","17.2","17.3"];
const yTicks16323=["14.95","15.00","15.05","15.10","15.15"];
const yTicks16495=["17.20","17.25","17.30","17.35","17.40"];
const yTicks16896=["16.3","16.4","16.5","16.6"];
const yTicks17209=["15.5","15.6","15.7","15.8","15.9"];
const yTicks17212=["15.25","15.30","15.35","15.40","15.45","15.50"];
const yTicks17359=["16.9","17.0","17.1","17.2","17.3","17.4","17.5","17.6"];
const yTicks17890=["15.7","15.8","15.9","16.0","16.1"];
const yTicks17972=["16.10","16.15","16.20","16.25","16.30"];
const yTicks18240=["17.0","17.1","17.2","17.3","17.4"];
const yTicks18686=["16.3","16.4","16.5","16.6","16.7"];
const yTicks19066=["18.1","18.2","18.3","18.4","18.5"];
const yTicks20389=["17.3","17.4","17.5","17.6","17.7"];
const yTicks20742=["16.00","16.05","16.10","16.15","16.20","16.25","16.30","16.35"];
const yTicks21083=["16.8","16.9","17.0","17.1","17.2","17.3"];

const seriesList=[obs16023,obs16323,obs16495,obs16896,obs17209,obs17212,obs17359,obs17890,obs17972,obs18240,obs18686,obs19066,obs20389,obs20742,obs21083];
const tickList=[yTicks16023,yTicks16323,yTicks16495,yTicks16896,yTicks17209,yTicks17212,yTicks17359,yTicks17890,yTicks17972,yTicks18240,yTicks18686,yTicks19066,yTicks20389,yTicks20742,yTicks21083];

// ---- layout (pixel frames: left, right, top, bottom, y-pixel of first & last tick) ----
const frames=[
 [60,357,10,272,19.3,233.3],[478.7,766.7,9,273,41.3,267.3],[886,1175.3,9.3,272.7,35.3,237.3],
 [60,359,329.3,593.3,360,543.3],[471.5,770,329.3,593.3,359.3,552.3],[890.8,1180.8,329.3,593.3,355,564.3],
 [60,359,649.3,913.3,670.3,903.3],[471.5,770,649.3,913.3,696.7,906.7],[890.8,1180.8,649.3,913.3,671.7,884],
 [60,359,969.3,1232.7,1010,1219.3],[471.5,770,973.3,1232.7,976.7,1205.7],[882,1181,969.3,1232.7,990,1190.7],
 [60,359,1289.3,1552.7,1303.3,1510.3],[480.8,770,1296,1552.7,1296,1534.3],[882,1181,1289.3,1552.7,1311,1524.3]];

const NS="http://www.w3.org/2000/svg";
const svg=document.getElementById('fig');
function mk(tag,attrs,parent){const e=document.createElementNS(NS,tag);for(const k in attrs)e.setAttribute(k,attrs[k]);parent.appendChild(e);return e;}

seriesList.forEach((data,i)=>{
  const [L,R,T,B,yA,yB]=frames[i];
  const ticks=tickList[i];
  const v0=parseFloat(ticks[0]),v1=parseFloat(ticks[ticks.length-1]);
  const xs=d=>L+(d-2000)/3000*(R-L);
  const ys=m=>yA+(m-v0)/(v1-v0)*(yB-yA);
  const g=mk('g',{},svg);
  
  
  const pts=mk('g',{fill:'#0000ff'},g);
  
  
  data.forEach(p=>{
    const c=mk('circle',{cx:xs(p[0]).toFixed(1),cy:ys(p[1]).toFixed(1),r:2.1},pts);
    
    
  });
  const fr=mk('rect',{x:L,y:T,width:R-L,height:B-T,fill:'none',stroke:'#000','stroke-width':1},g);
  
  
  const xa=mk('g',{'font-size':'13.5',fill:'#000','text-anchor':'middle'},g);
  
  
  xTicks.forEach(t=>{
    const x=xs(t);
    mk('line',{x1:x,x2:x,y1:B,y2:B-4,stroke:'#000'},xa);
    mk('line',{x1:x,x2:x,y1:T,y2:T+4,stroke:'#000'},xa);
    const tx=mk('text',{x:x,y:B+18},xa);tx.textContent=t;
    
    
  });
  const xl=mk('text',{x:(L+R)/2,y:B+36,'font-size':'13.5','text-anchor':'middle'},g);
  xl.textContent='HJD(2450000+) [days]';
  
  
  const ya=mk('g',{'font-size':'13.5',fill:'#000','text-anchor':'end'},g);
  
  
  ticks.forEach(t=>{
    const y=ys(parseFloat(t));
    mk('line',{x1:L,x2:L+4,y1:y,y2:y,stroke:'#000'},ya);
    mk('line',{x1:R,x2:R-4,y1:y,y2:y,stroke:'#000'},ya);
    const tx=mk('text',{x:L-6,y:y+5},ya);tx.textContent=t;
    
    
  });
  const off=ticks[0].length*8.5+12;
  const yl=mk('text',{x:0,y:0,'font-size':'13.5','text-anchor':'middle',transform:`translate(${L-off},${(T+B)/2}) rotate(-90)`},g);
  yl.textContent='I [mag]';
  
  
  const tt=mk('text',{x:(L+R)/2,y:T+25,'font-size':'13.5','font-weight':'bold','text-anchor':'middle'},g);
  tt.textContent=starIds[i];
  
  
});
</script>
</body></html>
